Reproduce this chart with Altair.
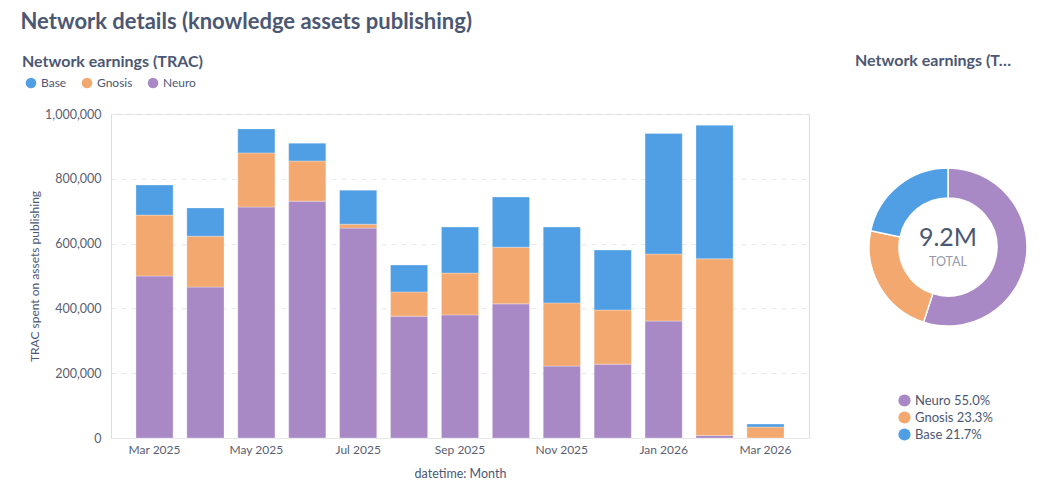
import altair as alt
import pandas as pd

# ---- data ----
months = ["Mar 2025", "Apr 2025", "May 2025", "Jun 2025", "Jul 2025", "Aug 2025",
          "Sep 2025", "Oct 2025", "Nov 2025", "Dec 2025", "Jan 2026", "Feb 2026", "Mar 2026"]
neuro = [500000, 466000, 713000, 731000, 648000, 376000, 380000, 414000, 222000, 228000, 361000, 8000, 0]
gnosis = [188000, 157000, 167000, 124000, 12000, 75000, 129000, 175000, 195000, 167000, 207000, 545000, 34000]
base = [93000, 87000, 74000, 55000, 105000, 83000, 142000, 155000, 234000, 185000, 372000, 412000, 9000]
shown_month_labels = ["Mar 2025", "May 2025", "Jul 2025", "Sep 2025", "Nov 2025", "Jan 2026", "Mar 2026"]

series_names = ["Base", "Gnosis", "Neuro"]
series_colors = ["#509EE3", "#F2A86F", "#A989C5"]
stack_order = {"Neuro": 0, "Gnosis": 1, "Base": 2}

donut_names = ["Neuro", "Gnosis", "Base"]
donut_shares = [55.0, 23.3, 21.7]
donut_labels = ["Neuro 55.0%", "Gnosis 23.3%", "Base 21.7%"]
donut_colors = ["#A989C5", "#F2A86F", "#509EE3"]
center_value = "9.2M"
center_label = "TOTAL"

FONT = "Lato"
TEXT = "#4c5773"
LIGHT = "#949aab"

rows = []
for i, m in enumerate(months):
    for name, vals in (("Neuro", neuro), ("Gnosis", gnosis), ("Base", base)):
        rows.append({"month": m, "series": name, "value": vals[i], "order": stack_order[name]})
bars_df = pd.DataFrame(rows)

label_list = ",".join("'" + s + "'" for s in shown_month_labels)

bars = alt.Chart(bars_df).mark_bar(stroke="white", strokeWidth=0.6, strokeOpacity=0.5).encode(
    x=alt.X("month:N", sort=months,
            scale=alt.Scale(paddingInner=0.27, paddingOuter=0.49),
            axis=alt.Axis(title="datetime: Month", labelAngle=0, ticks=False,
                          labelExpr=f"indexof([{label_list}], datum.value) >= 0 ? datum.value : ''",
                          domainColor="#e6e8ec", labelPadding=6, titlePadding=12,
                          labelFontSize=12, titleFontSize=12.5, labelColor="#5a6072",
                          titleColor=TEXT, titleFontWeight="normal", labelFont=FONT, titleFont=FONT)),
    y=alt.Y("value:Q", stack="zero", scale=alt.Scale(domain=[0, 1000000]),
            axis=alt.Axis(title="TRAC spent on assets publishing", tickCount=5, format=",d",
                          ticks=False, domain=False, grid=True, gridDash=[5, 5], gridColor="#e6e8ec",
                          labelPadding=10, titlePadding=3, labelFontSize=12.5, titleFontSize=12,
                          labelColor="#5a6072", titleColor=TEXT, titleFontWeight="normal",
                          labelFont=FONT, titleFont=FONT)),
    color=alt.Color("series:N", scale=alt.Scale(domain=series_names, range=series_colors),
                    legend=alt.Legend(title=None, orient="none", direction="horizontal",
                                      legendX=-86, legendY=-37, symbolType="circle", symbolSize=110,
                                      labelFontSize=12, labelColor=TEXT, labelFont=FONT,
                                      columnPadding=14, symbolStrokeWidth=0)),
    order=alt.Order("order:Q", sort="ascending"),
).properties(
    width=698, height=324,
    title=alt.TitleParams("Network earnings (TRAC)", anchor="start", dx=-3, fontSize=16,
                          fontWeight="bold", color=TEXT, font=FONT, offset=7),
)

donut_df = pd.DataFrame({"name": donut_names, "share": donut_shares, "label": donut_labels,
                         "order": list(range(len(donut_names)))})

arcs = alt.Chart(donut_df).mark_arc(innerRadius=49, outerRadius=79, stroke="white", strokeWidth=1.5).encode(
    theta=alt.Theta("share:Q", stack=True),
    color=alt.Color("label:N", sort=donut_labels,
                    scale=alt.Scale(domain=donut_labels, range=donut_colors),
                    legend=alt.Legend(title=None, orient="none", direction="vertical",
                                      legendX=45, legendY=280, symbolType="circle", symbolSize=150,
                                      labelFontSize=13, labelColor=TEXT, labelFont=FONT,
                                      rowPadding=3, symbolStrokeWidth=0)),
    order=alt.Order("order:Q", sort="ascending"),
)

center_df = pd.DataFrame({"value": [center_value], "label": [center_label]})
center_txt = alt.Chart(center_df).mark_text(fontSize=25, color=TEXT, font=FONT, dy=-9,
                                             baseline="middle").encode(text="value:N")
center_sub = alt.Chart(center_df).mark_text(fontSize=12.5, color=LIGHT, font=FONT, dy=15,
                                             baseline="middle").encode(text="label:N")

donut = alt.layer(arcs, center_txt, center_sub).properties(
    width=190, height=266,
    title=alt.TitleParams("Network earnings (TRAC)", anchor="start", dx=2, fontSize=16,
                          fontWeight="bold", color=TEXT, font=FONT, limit=166, offset=45),
)

chart = alt.hconcat(bars, donut, spacing=43).resolve_scale(color="independent").resolve_legend(
    color="independent"
).properties(
    title=alt.TitleParams("Network details (knowledge assets publishing)", anchor="start",
                          fontSize=22, fontWeight="bold", color=TEXT, font=FONT, dx=-1, offset=19),
    padding={"left": 12, "top": 3, "right": 0, "bottom": 0},
).configure_view(stroke=None).configure(background="white")

chart.save("out.html", embed_options={"renderer": "svg", "actions": False})
